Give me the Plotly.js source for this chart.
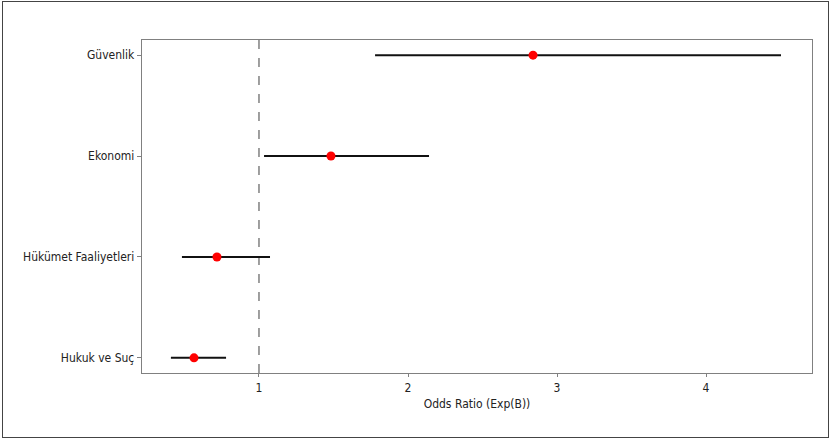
<!DOCTYPE html>
<html>
<head>
<meta charset="utf-8">
<script src="https://cdn.plot.ly/plotly-3.0.1.min.js"></script>
<style>
html,body{margin:0;padding:0;background:#fff;}
#wrap{position:absolute;left:0;top:0;width:830px;height:439px;}
#frame{position:absolute;left:2px;top:1px;width:825px;height:435px;border:1.5px solid #444;pointer-events:none;}
#chart{position:absolute;left:0;top:0;width:830px;height:439px;}
</style>
</head>
<body>
<div id="wrap"><div id="chart"></div><div id="frame"></div></div>
<script>
const categories = ["Hukuk ve Suç", "Hükümet Faaliyetleri", "Ekonomi", "Güvenlik"];
const oddsRatio = [0.564, 0.718, 1.483, 2.839];
const ciLower = [0.409, 0.483, 1.034, 1.779];
const ciUpper = [0.779, 1.074, 2.141, 4.503];
const xTicks = [1, 2, 3, 4];

const yIdx = categories.map((c, i) => i);
const trace = {
  type: "scatter",
  mode: "markers",
  x: oddsRatio,
  y: yIdx,
  marker: {color: "red", size: 9},
  error_x: {
    type: "data",
    symmetric: false,
    array: oddsRatio.map((v, i) => ciUpper[i] - v),
    arrayminus: oddsRatio.map((v, i) => v - ciLower[i]),
    color: "#111",
    thickness: 2,
    width: 0
  },
  hoverinfo: "x+y"
};

const font = {family: "DejaVu Sans Condensed, DejaVu Sans, sans-serif", size: 12, color: "#222"};
const layout = {
  width: 830, height: 439,
  margin: {l: 142, r: 18, t: 40, b: 66},
  paper_bgcolor: "#fff", plot_bgcolor: "#fff",
  showlegend: false,
  font: font,
  xaxis: {
    range: [0.215, 4.711],
    tickvals: xTicks,
    ticktext: xTicks.map(String),
    showgrid: false, zeroline: false,
    showline: true, mirror: true, linecolor: "#808080", linewidth: 1.3,
    ticks: "outside", ticklen: 3, tickcolor: "#808080",
    title: {text: "Odds Ratio (Exp(B))", font: font, standoff: 6}
  },
  yaxis: {
    range: [-0.15, 3.15],
    tickvals: yIdx,
    ticktext: categories,
    showgrid: false, zeroline: false,
    showline: true, mirror: true, linecolor: "#808080", linewidth: 1.3,
    ticks: "outside", ticklen: 4, tickcolor: "#808080"
  },
  shapes: [{
    type: "line", xref: "x", yref: "paper",
    x0: 1, x1: 1, y0: 0, y1: 1,
    line: {color: "#808080", width: 1.5, dash: "dash"},
    layer: "below"
  }]
};

Plotly.newPlot("chart", [trace], layout, {displayModeBar: false, staticPlot: true});
</script>
</body>
</html>
